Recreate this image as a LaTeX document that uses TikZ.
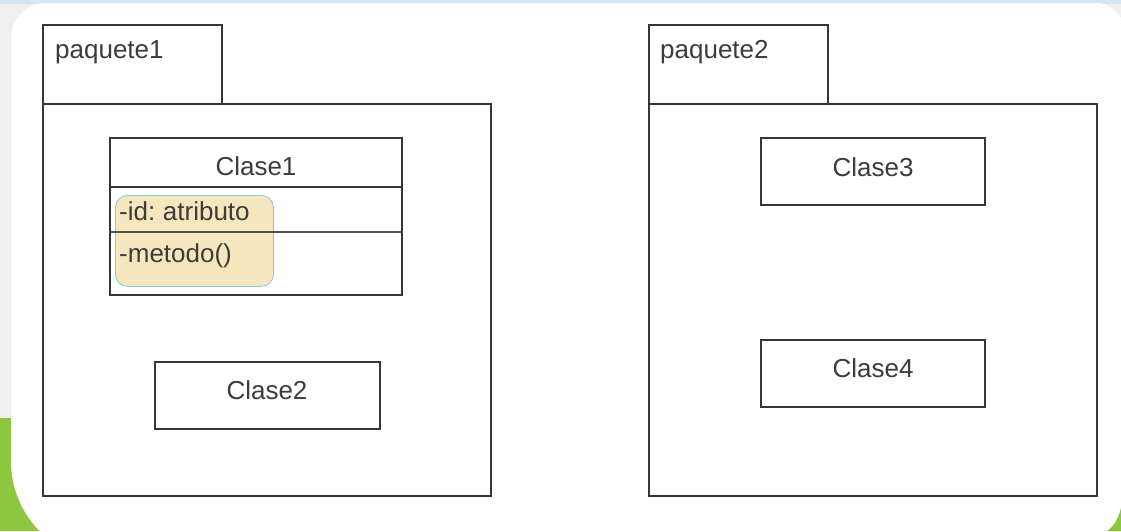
\documentclass[tikz,border=0pt]{standalone}
\usepackage{fontspec}
\setmainfont{Liberation Sans}
\definecolor{linec}{HTML}{363636}
\definecolor{textc}{HTML}{3C3C3C}
\definecolor{grass}{HTML}{8DC63F}
\definecolor{bggray}{HTML}{EFEFEF}
\definecolor{skyblue}{HTML}{D5E5F2}
\definecolor{hlfill}{HTML}{F5E6BE}
\definecolor{hldraw}{HTML}{86CFCF}
\begin{document}
\begin{tikzpicture}[x=1pt,y=-1pt,
  box/.style={draw=linec, line width=1.6pt, fill=white, inner sep=0pt, outer sep=0pt, anchor=north west},
  txt/.style={text=textc, font=\fontsize{26}{30}\selectfont, inner sep=0pt},
  divider/.style={draw=linec, line width=1.6pt},
  hl/.style={fill=hlfill, draw=hldraw, line width=0.8pt, rounded corners=12pt}]
\useasboundingbox (0,0) rectangle (1121,531);
% background
\fill[bggray] (0,0) rectangle (1121,531);
\fill[grass] (0,418) rectangle (80,531);
\fill[skyblue] (0,0) rectangle (1121,4);
\fill[white] (11,250) [rounded corners=100pt] |- (500,561)
  [rounded corners=50pt] -| (1125,250) [rounded corners=30pt] |- (500,3)
  [rounded corners=35pt] -| (11,250) [sharp corners] -- cycle;
\fill[grass] (1121,531) -- (1121,508) .. controls (1118,520) and (1113,527) .. (1107,531) -- cycle;
% package 1
\node[box, minimum width=179pt, minimum height=79pt] (p1tab) at (43,25) {};
\node[box, minimum width=448pt, minimum height=392pt] (p1body) at (43,104) {};
\node[txt, anchor=base west] (p1name) at (55,58) {paquete1};
% package 2
\node[box, minimum width=179pt, minimum height=79pt] (p2tab) at (649,25) {};
\node[box, minimum width=448pt, minimum height=392pt] (p2body) at (649,104) {};
\node[txt, anchor=base west] (p2name) at (660,58) {paquete2};
% Clase1
\node[box, minimum width=292pt, minimum height=157pt] (c1) at (110,138) {};
\draw[divider] (c1.west |- 0,187) -- (c1.east |- 0,187);
\node[hl, anchor=north west, minimum width=158pt, minimum height=91pt, inner sep=0pt] (hlbox) at (115,195) {};
\draw[divider, draw opacity=0.85] (c1.west |- 0,232) -- (c1.east |- 0,232);
\node[txt, anchor=base] (c1name) at (256,175) {Clase1};
\node[txt, anchor=base west] (c1attr) at (119,220) {-id:\hspace{-2pt} atributo};
\node[txt, anchor=base west] (c1meth) at (119,262) {-metodo()};
% Clase2
\node[box, minimum width=225pt, minimum height=67pt] (c2) at (155,362) {};
\node[txt, anchor=base] (c2name) at (267,399) {Clase2};
% Clase3
\node[box, minimum width=224pt, minimum height=67pt] (c3) at (761,138) {};
\node[txt, anchor=base] (c3name) at (873,176) {Clase3};
% Clase4
\node[box, minimum width=224pt, minimum height=67pt] (c4) at (761,340) {};
\node[txt, anchor=base] (c4name) at (873,377) {Clase4};
\end{tikzpicture}
\end{document}
